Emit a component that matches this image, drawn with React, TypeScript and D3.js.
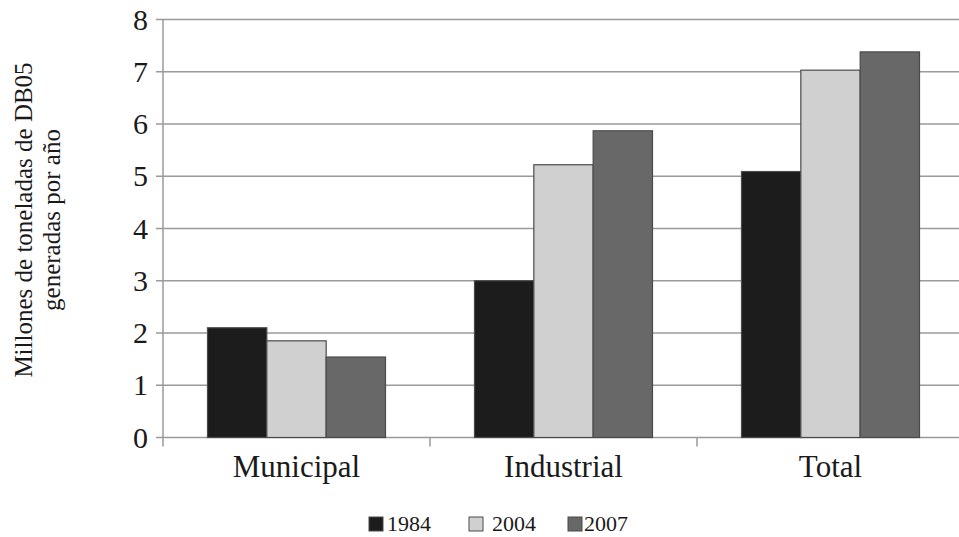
import React, { useEffect, useRef } from "react";
import * as d3 from "d3";

const categories = ["Municipal", "Industrial", "Total"];
const years = ["1984", "2004", "2007"];
const values1984 = [2.1, 3.0, 5.09];
const values2004 = [1.85, 5.22, 7.03];
const values2007 = [1.54, 5.87, 7.38];
const yTicks = [0, 1, 2, 3, 4, 5, 6, 7, 8];
const yTitle = ["Millones de toneladas de DB05", "generadas por año"];

const colors = ["#1c1c1c", "#d0d0d0", "#686868"];
const font = "'Liberation Serif', 'DejaVu Serif', serif";

const App: React.FC = () => {
  const ref = useRef<SVGSVGElement | null>(null);

  useEffect(() => {
    const svg = d3.select(ref.current);
    svg.selectAll("*").remove();

    const series = [values1984, values2004, values2007];
    const left = 163;
    const right = 964;
    const top = 19.5;
    const bottom = 437.5;

    const x0 = d3.scaleBand().domain(categories).range([left, right]);
    const x1 = d3
      .scaleBand()
      .domain(years)
      .range([0, x0.bandwidth()])
      .paddingOuter(0.75)
      .paddingInner(0);
    const y = d3.scaleLinear().domain([0, 8]).range([bottom, top]);

    // gridlines
    svg
      .append("g")
      .selectAll("line")
      .data(yTicks)
      .enter()
      .append("line")
      .attr("x1", left - 7)
      .attr("x2", right)
      .attr("y1", (d) => y(d))
      .attr("y2", (d) => y(d))
      .attr("stroke", "#9a9a9a")
      .attr("stroke-width", 1.5);

    // y axis line
    svg
      .append("line")
      .attr("x1", left)
      .attr("x2", left)
      .attr("y1", top)
      .attr("y2", bottom + 9)
      .attr("stroke", "#9a9a9a")
      .attr("stroke-width", 1.5);

    // category ticks
    svg
      .append("g")
      .selectAll("line")
      .data(categories.slice(1))
      .enter()
      .append("line")
      .attr("x1", (d) => x0(d) ?? 0)
      .attr("x2", (d) => x0(d) ?? 0)
      .attr("y1", bottom)
      .attr("y2", bottom + 9)
      .attr("stroke", "#9a9a9a")
      .attr("stroke-width", 1.5);

    // y tick labels
    svg
      .append("g")
      .selectAll("text")
      .data(yTicks)
      .enter()
      .append("text")
      .attr("x", left - 15)
      .attr("y", (d) => y(d))
      .attr("dy", "0.34em")
      .attr("text-anchor", "end")
      .attr("font-family", font)
      .attr("font-size", 30)
      .attr("fill", "#1a1a1a")
      .text((d) => d);

    // bars
    const bars = categories.flatMap((c, i) =>
      years.map((yr, j) => ({ c, yr, v: series[j][i], j }))
    );
    svg
      .append("g")
      .selectAll("rect")
      .data(bars)
      .enter()
      .append("rect")
      .attr("x", (d) => (x0(d.c) ?? 0) + (x1(d.yr) ?? 0))
      .attr("y", (d) => y(d.v))
      .attr("width", x1.bandwidth())
      .attr("height", (d) => bottom - y(d.v))
      .attr("fill", (d) => colors[d.j])
      .attr("stroke", "#4a4a4a")
      .attr("stroke-width", 1.2);

    // category labels
    svg
      .append("g")
      .selectAll("text")
      .data(categories)
      .enter()
      .append("text")
      .attr("x", (d) => (x0(d) ?? 0) + x0.bandwidth() / 2)
      .attr("y", 477)
      .attr("text-anchor", "middle")
      .attr("font-family", font)
      .attr("font-size", 31)
      .attr("fill", "#1a1a1a")
      .text((d) => d);

    // y title
    const cy = 220;
    yTitle.forEach((t, i) => {
      svg
        .append("text")
        .attr("transform", `translate(${32 + i * 28},${cy}) rotate(-90)`)
        .attr("text-anchor", "middle")
        .attr("font-family", font)
        .attr("font-size", 25)
        .attr("fill", "#1a1a1a")
        .text(t);
    });

    // legend
    const legendX = [369, 469, 568];
    const textOff = [18, 23, 16];
    const lg = svg
      .append("g")
      .selectAll("g")
      .data(years)
      .enter()
      .append("g")
      .attr("transform", (d, i) => `translate(${legendX[i]},517)`);
    lg.append("rect")
      .attr("width", 14)
      .attr("height", 14)
      .attr("fill", (d, i) => colors[i])
      .attr("stroke", "#4a4a4a")
      .attr("stroke-width", 1);
    lg.append("text")
      .attr("x", (d, i) => textOff[i])
      .attr("y", 14)
      .attr("font-family", font)
      .attr("font-size", 22)
      .attr("fill", "#1a1a1a")
      .text((d) => d);
  }, []);

  return (
    <svg
      ref={ref}
      width={959}
      height={537}
      style={{ position: "absolute", left: 0, top: 0, background: "#fff" }}
    />
  );
};

export default App;
